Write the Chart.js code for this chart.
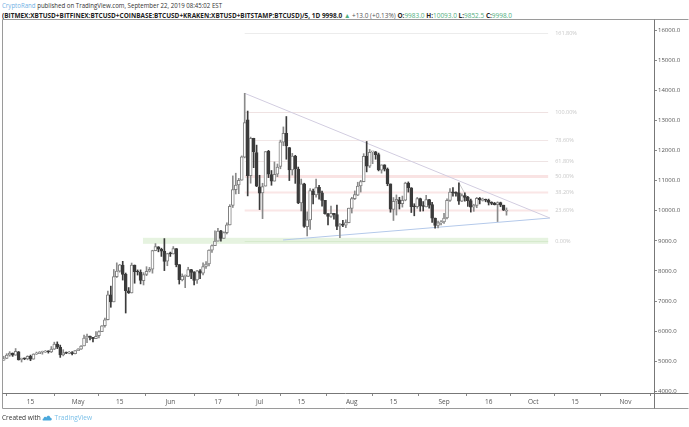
<!DOCTYPE html>
<html>
<head>
<meta charset="utf-8">
<script src="https://cdn.jsdelivr.net/npm/chart.js@4.4.1/dist/chart.umd.min.js"></script>
<style>
html,body{margin:0;padding:0;background:#fff;}
body{width:689px;height:427px;overflow:hidden;position:relative;font-family:'Open Sans',sans-serif;}
.hd{position:absolute;left:2px;white-space:nowrap;transform-origin:left top;color:#333;}
#h1{top:1px;font-size:7px;}
#h2{top:10.5px;font-size:7px;font-weight:bold;color:#222;}
.g{color:#4fae7e;font-weight:normal;}
#foot{position:absolute;left:2px;top:413px;font-size:7px;color:#333;white-space:nowrap;transform-origin:left top;}
canvas{position:absolute;left:0;top:0;}
</style>
</head>
<body>
<div id="h1" class="hd"><span style="color:#6fb1e4">CryptoRand</span> published on TradingView.com, September 22, 2019 08:45:02 EST</div>
<div id="h2" class="hd">(BITMEX:XBTUSD+BITFINEX:BTCUSD+COINBASE:BTCUSD+KRAKEN:XBTUSD+BITSTAMP:BTCUSD)/5, 1D 9998.0 <span class="g">▲</span> <span style="font-weight:normal;color:#555">+13.0 (+0.13%)</span> O:<span class="g">9983.0</span> H:<span class="g">10093.0</span> L:<span class="g">9852.5</span> C:<span class="g">9998.0</span></div>
<canvas id="c" width="689" height="427"></canvas>
<div id="foot">Created with <svg width="11" height="7" viewBox="0 0 22 14" style="vertical-align:-1px"><path d="M2 13 C0 13 0 9 3 9 C3 5 8 4 9 7 C10 2 17 2 17 7 C21 7 22 13 18 13 Z" fill="#4aa8dc"/></svg> <span style="color:#7cc0e8">TradingView</span></div>
<script>
// ---- data: daily candles starting 2019-04-06 (day 0 = Apr 15) ----
const firstDayOffset = -9;
const open = [
5036,5092,5199,5273,5201,5312,5061,5078,5076,5166,5067,5236,5251,5298,5304,5336,5312,5399,5571,5462,5210,5279,5271,5283,5247,
5351,5402,5505,5770,5831,5792,5745,5849,5983,6177,6379,7204,6971,7807,7989,8195,7887,7341,7267,8196,7977,7956,7677,7881,7991,8055,8674,8802,8718,8661,8320,
8573,8565,8742,8210,7704,7818,7819,8045,7950,7701,8000,7925,8146,8231,8689,8841,8989,9335,9078,9273,9526,10175,10696,10854,11012,11778,13017,11162,12405,11931,
10796,10588,10818,11976,11203,10982,11217,11474,12277,12571,12101,11354,11813,11381,10257,10897,9471,9698,10654,10525,10777,10596,10346,9887,9809,9914,9875,9491,9548,9522,9604,
10077,10403,10519,10822,10961,11811,11476,11954,11953,11861,11349,11528,11385,10889,10039,10319,10359,10233,10350,10917,10764,10142,10136,10407,10160,10126,10372,10203,9757,9515,9597,
9630,9757,10345,10611,10588,10590,10316,10506,10443,10337,10123,10176,10415,10345,10357,10347,10281,10248,10200,10266,10184,9983];
const high = [
5165,5250,5318,5274,5421,5323,5103,5108,5181,5203,5247,5304,5320,5336,5358,5347,5488,5633,5642,5535,5383,5305,5326,5323,5355,
5418,5522,5865,5901,5833,5792,5988,6012,6183,6434,7333,7495,8047,8268,8216,8318,7929,7447,8262,8196,8033,8034,7943,8140,8117,8687,8908,8807,8755,9074,8587,
8625,8809,8744,8210,7901,7867,8121,8056,7975,8023,8043,8266,8311,8700,8864,9335,9416,9348,9300,9594,10200,11157,11246,11074,11820,13900,13311,12445,12408,12179,
11177,10912,11968,12007,11336,11621,11552,12345,12783,13129,12101,11905,11841,11451,11052,10913,9963,10736,10716,11048,10841,10651,10346,9916,10154,9917,10185,9575,9681,9701,10085,
10446,10657,10946,11009,11895,12300,12036,11954,11970,11915,11523,11528,11420,10889,10437,10524,10446,10487,10947,10957,10765,10232,10442,10418,10305,10512,10382,10279,9758,9656,9673,
9916,10396,10736,10771,10628,10930,10561,10595,10478,10386,10215,10442,10441,10419,10387,10386,10296,10275,10295,10285,10184,10093];
const low = [
5028,5090,5164,5160,5195,5039,4973,5050,5046,5017,5065,5225,5250,5233,5293,5269,5286,5389,5418,5127,5177,5250,5247,5210,5239,
5348,5394,5505,5620,5711,5643,5745,5777,5983,6135,6375,6792,6971,7780,7960,7696,6601,7251,7266,7591,7862,7569,7533,7842,7965,7925,8668,8634,8482,8010,8172,
8481,8561,8136,7564,7668,7444,7812,7745,7533,7582,7744,7870,8079,8167,8618,8841,8989,8990,9078,9232,9526,10107,10556,10566,11012,11755,10492,10914,11430,10800,
10037,9737,10818,11100,10845,10982,11131,11393,12159,11710,11002,11185,10908,10234,9993,9448,9163,9376,10229,10451,10384,10154,9883,9526,9774,9717,9371,9103,9472,9437,9598,
9923,10371,10504,10620,10960,11290,11433,11562,11709,11323,11248,11320,10830,9950,9675,9856,10056,10119,10329,10618,9940,9831,10080,9982,9991,10126,10087,9613,9421,9428,9531,
9576,9730,10308,10484,10481,10210,10303,10315,10144,9954,9980,10099,10226,10321,10296,10190,10199,10191,9640,10132,10006,9852];
const close = [
5082,5201,5268,5201,5330,5047,5080,5077,5166,5067,5235,5251,5298,5304,5337,5314,5399,5572,5465,5210,5279,5268,5285,5247,5350,
5402,5505,5768,5831,5795,5747,5830,5982,6175,6379,7204,6972,7814,7994,8205,7884,7343,7271,8197,7978,7963,7680,7881,7987,8052,8673,8805,8719,8659,8319,8575,
8565,8742,8210,7705,7824,7822,8043,7954,7688,8000,7927,8146,8231,8694,8838,8995,9320,9081,9274,9527,10144,10701,10855,11011,11790,12932,11162,12407,11959,10817,
10583,10801,11961,11216,10978,11208,11450,12285,12573,12156,11358,11815,11393,10256,10896,9477,9694,10667,10530,10767,10599,10343,9900,9811,9912,9871,9477,9552,9519,9607,10085,
10406,10538,10821,10971,11805,11479,11942,11966,11862,11354,11523,11382,10895,10052,10311,10374,10231,10345,10918,10764,10138,10131,10407,10160,10139,10370,10185,9754,9510,9599,9630,
9757,10346,10623,10594,10576,10321,10499,10443,10336,10115,10178,10410,10361,10358,10347,10276,10241,10199,10266,10181,10019,9998];

// time axis ticks (days from Apr 15, 2019)
const tickDays = [0,16,30,47,63,77,91,108,122,139,154,169,183,200];
const tickLabels = ['15','May','15','Jun','17','Jul','15','Aug','15','Sep','16','Oct','15','Nov'];
const priceTicks = [4000,5000,6000,7000,8000,9000,10000,11000,12000,13000,14000,15000,16000];

// drawings
const triUpper = [{x:72, y:13900},{x:174.6, y:9757}];
const triLower = [{x:84.9, y:9027},{x:174.6, y:9757}];
const smallLine = [{x:144, y:10930},{x:148.5, y:10120}];
const fibLow = 9000, fibHigh = 13275, fibStartDay = 72, fibEndDay = 174;
const fibRatios = [1.618,1,0.786,0.618,0.5,0.382,0.236,0];
const fibLabels = ['161.80%','100.00%','78.60%','61.80%','50.00%','38.20%','23.60%','0.00%'];
const fibColors = ['#ececec','#efe2e2','#f1e6e6','#eee4e4','rgba(240,182,182,0.38)','rgba(240,185,185,0.36)','rgba(240,185,185,0.36)','#d6eacd'];
const fibWidths = [1,1,1,1,3,2,2,1];
const bandStartDay = 37.8, bandLow = 8900, bandHigh = 9100;

const days = open.map((_, i) => i + firstDayOffset);
const isUp = open.map((o, i) => close[i] >= o);

const deco = {
  id: 'deco',
  beforeDatasetsDraw(chart) {
    const {ctx, scales: {x, y}} = chart;
    ctx.save();
    const x0 = x.getPixelForValue(bandStartDay), x1 = x.getPixelForValue(fibEndDay);
    const yt = y.getPixelForValue(bandHigh), yb = y.getPixelForValue(bandLow);
    ctx.fillStyle = 'rgba(222,239,214,0.75)';
    ctx.fillRect(x0, yt, x1 - x0, yb - yt);
    const fx0 = x.getPixelForValue(fibStartDay);
    ctx.font = '5.5px "Open Sans"';
    ctx.textBaseline = 'middle';
    fibRatios.forEach((r, i) => {
      const p = fibLow + r * (fibHigh - fibLow);
      const py = Math.round(y.getPixelForValue(p)) + 0.5;
      ctx.strokeStyle = fibColors[i];
      ctx.lineWidth = fibWidths[i];
      ctx.beginPath(); ctx.moveTo(fx0, py); ctx.lineTo(x1, py); ctx.stroke();
      ctx.fillStyle = '#c8c8c8';
      ctx.fillText(fibLabels[i], x1 + 7, py);
    });
    ctx.restore();
  },
  afterDraw(chart) {
    const {ctx, chartArea: a} = chart;
    ctx.save();
    ctx.fillStyle = '#fff';
    ctx.fillRect(a.right + 1, a.bottom + 1, 688 - a.right - 1, 15);
    ctx.strokeStyle = '#9a9a9a';
    ctx.lineWidth = 1;
    const L = 2.5, R = 688.5, T = 19.5, B = 408.5;
    ctx.beginPath();
    ctx.moveTo(L, T); ctx.lineTo(R, T);
    ctx.moveTo(L, T); ctx.lineTo(L, B);
    ctx.moveTo(L, B); ctx.lineTo(R, B);
    ctx.stroke();
    ctx.strokeStyle = '#777';
    ctx.beginPath();
    ctx.moveTo(L, a.bottom + 0.5); ctx.lineTo(R, a.bottom + 0.5);
    ctx.moveTo(a.right + 0.5, T); ctx.lineTo(a.right + 0.5, B);
    ctx.stroke();
    ctx.restore();
  }
};

new Chart(document.getElementById('c'), {
  type: 'bar',
  data: {
    datasets: [
      { type: 'bar', label: 'body', order: 0, grouped: false,
        data: days.map((d, i) => ({x: d, y: [open[i], close[i]]})),
        backgroundColor: isUp.map(u => u ? '#ffffff' : '#3b3b3b'),
        borderColor: isUp.map(u => u ? '#808080' : '#3b3b3b'),
        borderWidth: 1, borderSkipped: false, barThickness: 3, minBarLength: 1 },
      { type: 'bar', label: 'wick', order: 1, grouped: false,
        data: days.map((d, i) => ({x: d, y: [low[i], high[i]]})),
        backgroundColor: isUp.map(u => u ? '#8a8a8a' : '#3b3b3b'),
        barThickness: 1 },
      { type: 'line', order: 2, data: triUpper, borderColor: '#d2cde0', borderWidth: 1, pointRadius: 0 },
      { type: 'line', order: 2, data: triLower, borderColor: '#b4c9ea', borderWidth: 1, pointRadius: 0 },
      { type: 'line', order: 2, data: smallLine, borderColor: '#c8c8c8', borderWidth: 1, pointRadius: 0 }
    ]
  },
  options: {
    responsive: false, animation: false, devicePixelRatio: 1,
    layout: { padding: { left: 2, top: 19, right: 0, bottom: 19 } },
    plugins: { legend: { display: false }, tooltip: { enabled: false } },
    scales: {
      x: {
        type: 'linear', offset: false, min: -9.58, max: 209.58,
        afterBuildTicks: s => { s.ticks = tickDays.map(v => ({value: v})); },
        afterFit: s => { s.height = 15; },
        ticks: { autoSkip: false, maxRotation: 0, padding: 2, color: '#555',
          font: { family: 'Open Sans', size: 6.5 },
          callback: (v, i) => tickLabels[i] },
        grid: { drawOnChartArea: false, tickLength: 3, color: '#888' },
        border: { display: false }
      },
      y: {
        type: 'linear', position: 'right', min: 3944, max: 16369,
        afterBuildTicks: s => { s.ticks = priceTicks.map(v => ({value: v})); },
        afterFit: s => { s.width = 35; },
        ticks: { padding: 1, color: '#555', font: { family: 'Open Sans', size: 6 },
          callback: v => Number(v).toFixed(1) },
        grid: { drawOnChartArea: false, tickLength: 3, color: '#888' },
        border: { display: false }
      }
    }
  },
  plugins: [deco]
});

function fit(id, w) {
  const el = document.getElementById(id);
  const cur = el.getBoundingClientRect().width;
  el.style.transform = 'scaleX(' + (w / cur) + ')';
}
fit('h1', 220);
fit('h2', 510);
fit('foot', 90);
</script>
</body>
</html>
